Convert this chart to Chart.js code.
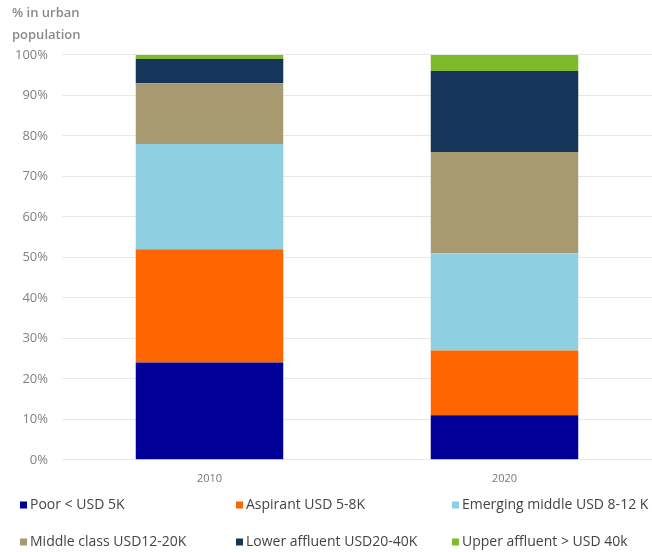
<!DOCTYPE html>
<html>
<head>
<meta charset="utf-8">
<script src="https://cdn.jsdelivr.net/npm/chart.js@4"></script>
<style>
  html, body { margin: 0; padding: 0; background: #fff; }
  #wrap { width: 652px; height: 552px; position: relative; }
</style>
</head>
<body>
<div id="wrap"><canvas id="myChart"></canvas></div>
<script>
const years = ['2010', '2020'];
const poor = [24, 11];
const aspirant = [28, 16];
const emerging = [26, 24];
const middleClass = [15, 25];
const lowerAffluent = [6, 20];
const upperAffluent = [1, 4];
const yTicks = [0, 10, 20, 30, 40, 50, 60, 70, 80, 90, 100];

const FONT = "'Open Sans', sans-serif";

// legend drawn in fixed columns, two rows under the axis
const legendCols = [20, 236, 452];
const legendRows = [505, 542];
const gridLegend = {
  id: 'gridLegend',
  afterDraw(chart) {
    const ctx = chart.ctx;
    ctx.save();
    ctx.font = '14px ' + FONT;
    ctx.textBaseline = 'middle';
    chart.data.datasets.forEach((ds, i) => {
      const x = legendCols[i % 3];
      const y = legendRows[Math.floor(i / 3)];
      ctx.fillStyle = ds.backgroundColor;
      ctx.fillRect(x, y - 3.5, 7, 7);
      ctx.fillStyle = '#444';
      ctx.fillText(ds.label, x + 10, y);
    });
    ctx.restore();
  }
};

function mk(label, data, color) {
  return {
    label: label,
    data: data,
    backgroundColor: color,
    borderWidth: 0,
    barPercentage: 0.5,
    categoryPercentage: 1.0
  };
}

const ctx = document.getElementById('myChart').getContext('2d');
new Chart(ctx, {
  type: 'bar',
  data: {
    labels: years,
    datasets: [
      mk('Poor < USD 5K', poor, '#000099'),
      mk('Aspirant USD 5-8K', aspirant, '#ff6600'),
      mk('Emerging middle USD 8-12 K', emerging, '#8ed0e2'),
      mk('Middle class USD12-20K', middleClass, '#a79a70'),
      mk('Lower affluent USD20-40K', lowerAffluent, '#15355b'),
      mk('Upper affluent > USD 40k', upperAffluent, '#7fba2c')
    ]
  },
  options: {
    responsive: true,
    maintainAspectRatio: false,
    animation: false,
    layout: { padding: { left: 12, right: 0, top: 0, bottom: 55 } },
    scales: {
      x: {
        stacked: true,
        grid: { display: false, drawTicks: false },
        border: { display: false },
        ticks: { color: '#777', font: { family: FONT, size: 11 }, padding: 12 }
      },
      y: {
        stacked: true,
        min: 0,
        max: 100,
        afterBuildTicks: (s) => { s.ticks = yTicks.map(v => ({ value: v })); },
        afterFit: (s) => { s.width = 50; },
        grid: { color: '#e8e8e8', drawTicks: false, lineWidth: 1 },
        border: { display: false },
        ticks: {
          color: '#808080',
          font: { family: FONT, size: 13 },
          padding: 14,
          callback: (v) => v + '%'
        }
      }
    },
    plugins: {
      legend: { display: false },
      tooltip: { enabled: false },
      title: {
        display: true,
        align: 'start',
        text: ['% in urban', 'population'],
        color: '#8a8a8a',
        font: { family: FONT, size: 13, weight: '600', lineHeight: 1.65 },
        padding: { top: 3, bottom: 9 }
      }
    }
  },
  plugins: [gridLegend]
});
</script>
</body>
</html>
